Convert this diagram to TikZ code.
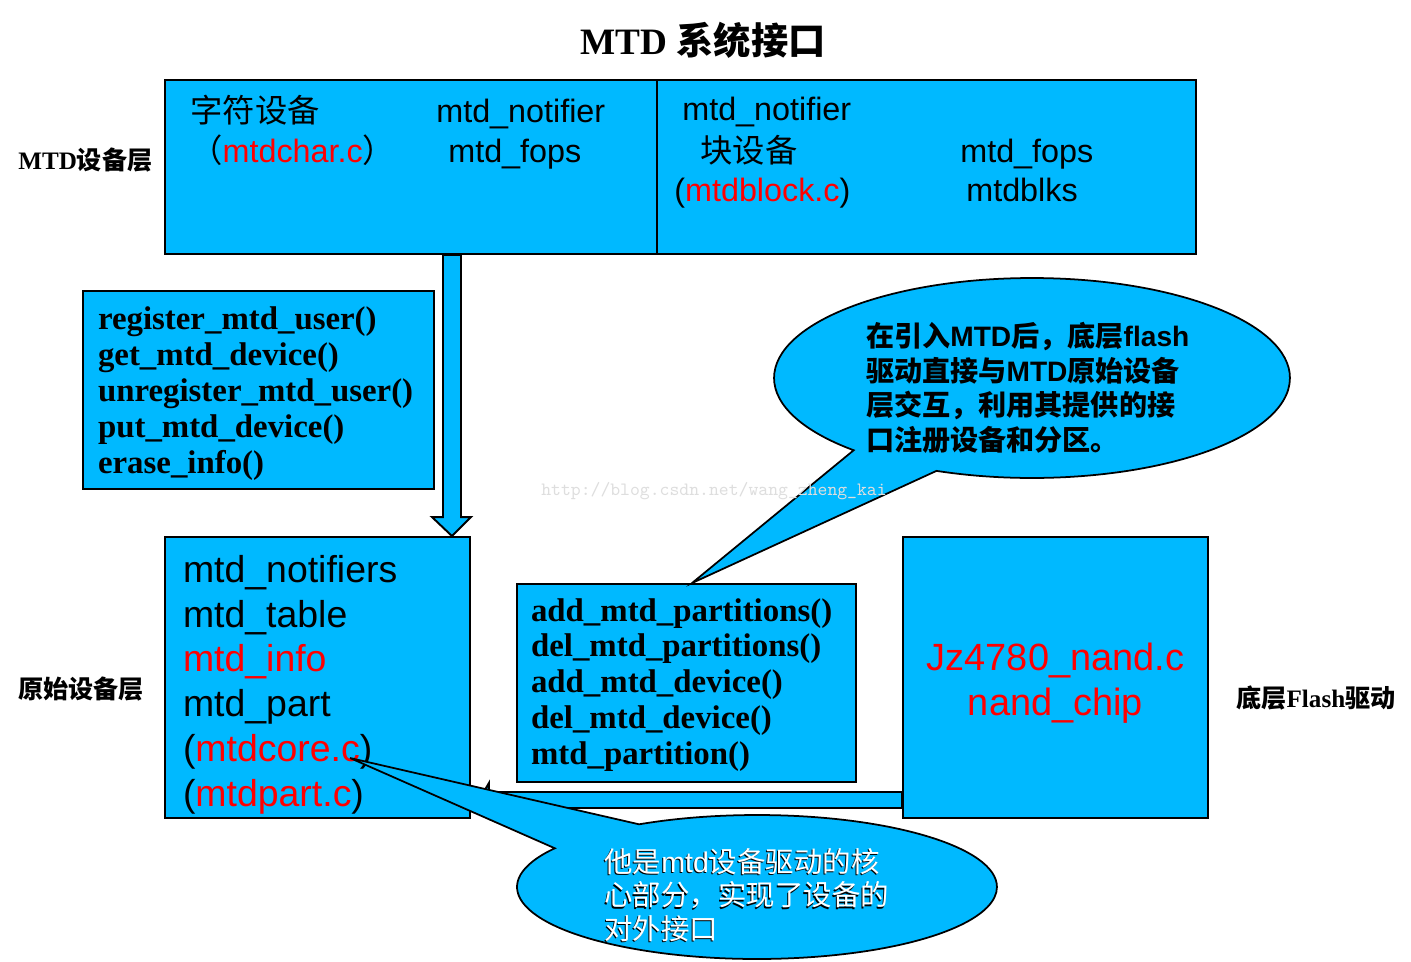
\documentclass[tikz,border=0pt]{standalone}
\usepackage{fontspec}
\setmainfont{Liberation Serif}
\setsansfont{Liberation Sans}
\newfontfamily\cjk{Noto Sans CJK SC}
\usepackage{xcolor}
\usepackage{tikz}
\usetikzlibrary{calc, shapes.callouts}

\definecolor{mtdblue}{RGB}{0,185,255}
\newcommand\emb[1]{\leavevmode\rlap{\kern-0.6pt\raisebox{-0.6pt}{\color{black}#1}}{\color{white}#1}}

\begin{document}
\begin{tikzpicture}[
x=0.02cm, y=-0.02cm,
box/.style={
rectangle,
draw,
line width=1.1pt,
fill=mtdblue,
inner sep=0pt
},
txt/.style={
inner sep=0pt,
anchor=base west,
font=\sffamily\fontsize{18.4pt}{22pt}\selectfont
},
func/.style={
box,
align=left,
inner xsep=0.3cm,
font=\bfseries\fontsize{18.7pt}{20.4pt}\selectfont
},
lab/.style={
inner sep=0pt,
anchor=west,
font=\bfseries\fontsize{14.3pt}{17pt}\selectfont
},
bubble/.style={
ellipse callout,
draw,
line width=1pt,
fill=mtdblue,
inner xsep=0pt,
inner ysep=-0.5cm,
align=left
},
fat/.style={
draw,
line width=1.1pt,
fill=mtdblue,
line join=miter
}
]
\path[use as bounding box, fill=white] (0,0) rectangle (1411,961);

% title and layer labels
\node[inner sep=0pt, font=\bfseries\fontsize{21.2pt}{25pt}\selectfont] (title) at (703,40)
{MTD {\cjk 系统接口}};
\node[lab] (l1) at (18,160) {MTD{\cjk 设备层}};
\node[lab] (l2) at (18,689) {\cjk 原始设备层};
\node[lab] (l3) at (1236,698) {{\cjk 底层}Flash{\cjk 驱动}};

% MTD device layer
\node[box, minimum width=9.84cm, minimum height=3.48cm] (chr) at (411,167) {};
\node[box, minimum width=10.78cm, minimum height=3.48cm] (blk) at (926.5,167) {};

\node[txt] (c1) at (190,122) {\cjk 字符设备};
\node[txt] (c2) at (190,162) {{\cjk （}\textcolor{red}{mtdchar.c}{\cjk ）}};
\node[txt] (c3) at (436,122) {mtd\_notifier};
\node[txt] (c4) at (448,162) {mtd\_fops};

\node[txt] (b1) at (682,120) {mtd\_notifier};
\node[txt] (b2) at (700,162) {\cjk 块设备};
\node[txt] (b3) at (674,201) {(\textcolor{red}{mtdblock.c})};
\node[txt] (b4) at (960,162) {mtd\_fops};
\node[txt] (b5) at (966,201) {mtdblks};

% user interface
\node[func, text width=6.42cm, minimum width=7.02cm, minimum height=3.96cm] (user) at (258.5,390)
{\rule{0pt}{17pt}register\_mtd\_user()\\
get\_mtd\_device()\\
unregister\_mtd\_user()\\
put\_mtd\_device()\\
erase\_info()};

% raw device layer
\node[box, align=left, inner xsep=0.36cm, text width=5.38cm, minimum width=6.1cm, minimum height=5.62cm,
font=\sffamily\fontsize{21.3pt}{25.5pt}\selectfont] (core) at (317.5,677.5)
{\rule{0pt}{23.5pt}mtd\_notifiers\\
mtd\_table\\
\textcolor{red}{mtd\_info}\\
mtd\_part\\
(\textcolor{red}{mtdcore.c})\\
(\textcolor{red}{mtdpart.c})};

\node[func, inner xsep=0.28cm, text width=6.22cm, minimum width=6.78cm, minimum height=3.96cm] (part) at (686.5,683)
{\rule{0pt}{15pt}add\_mtd\_partitions()\\
del\_mtd\_partitions()\\
add\_mtd\_device()\\
del\_mtd\_device()\\
mtd\_partition()};

% flash driver
\node[box, align=center, minimum width=6.1cm, minimum height=5.62cm, text=red,
font=\sffamily\fontsize{21.6pt}{25.5pt}\selectfont] (drv) at (1055.5,677.5)
{\rule{0pt}{22pt}Jz4780\_nand.c\\
nand\_chip};

% block arrows
\coordinate (dx) at (452,0);
\coordinate (hy) at (0,800);
\coordinate (ds) at (chr.south -| dx);
\coordinate (de) at (core.north -| dx);
\draw[fat] ($(ds)+(-9,0)$) -- ($(de)+(-9,-19)$) -- ($(de)+(-20,-19)$) -- (de)
-- ($(de)+(19,-19)$) -- ($(de)+(9,-19)$) -- ($(ds)+(9,0)$) -- cycle;

\coordinate (hs) at (drv.west |- hy);
\coordinate (he) at ($(core.east |- hy)+(8,0)$);
\draw[fat] ($(hs)+(0,-8)$) -- ($(he)+(10,-8)$) -- ($(he)+(10,-17)$) -- (he)
-- ($(he)+(10,17)$) -- ($(he)+(10,8)$) -- ($(hs)+(0,8)$) -- cycle;

% callouts
\coordinate (tipA) at (part.north -| 692,0);
\coordinate (tipB) at (350,758);

\node[bubble, text width=6.64cm, minimum width=10.32cm, minimum height=4cm,
callout absolute pointer={(tipA)}, callout pointer arc=22,
font=\sffamily\bfseries\fontsize{16pt}{19.8pt}\selectfont] (noteA) at (1032,378)
{\rule{0pt}{25pt}{\cjk 在引入}MTD{\cjk 后，底层}flash\\
{\cjk 驱动直接与}MTD{\cjk 原始设备}\\
{\cjk 层交互，利用其提供的接}\\
{\cjk 口注册设备和分区。}};

\node[bubble, text width=6.1cm, minimum width=9.6cm, minimum height=2.88cm,
callout absolute pointer={(tipB)}, callout pointer arc=28,
font=\sffamily\fontsize{16.2pt}{19pt}\selectfont] (noteB) at (757,887)
{\rule{0pt}{23.5pt}\emb{{\cjk 他是}mtd{\cjk 设备驱动的核}}\\
\emb{\cjk 心部分，实现了设备的}\\
\emb{\cjk 对外接口}};

% watermark
\node[inner sep=0pt, text=black!13, font=\ttfamily\fontsize{10.7pt}{12pt}\selectfont] (mark) at (714,491)
{http://blog.csdn.net/wang\_zheng\_kai};

\end{tikzpicture}
\end{document}
